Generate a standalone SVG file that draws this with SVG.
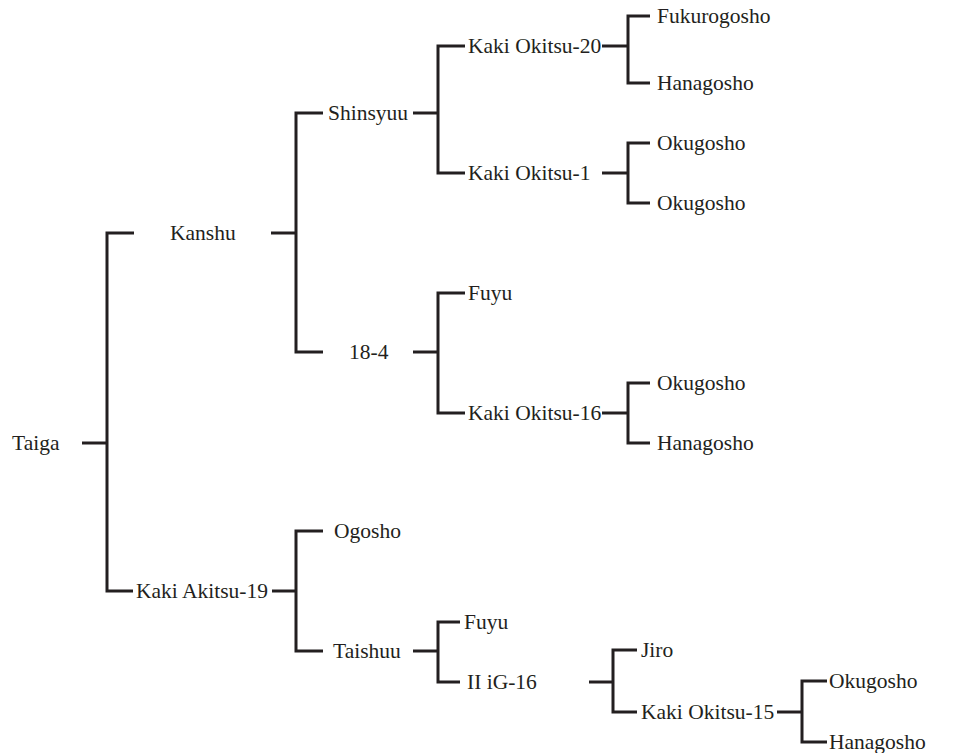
<svg xmlns="http://www.w3.org/2000/svg" width="958" height="753" viewBox="0 0 958 753">
<style>
.c{fill:none;stroke:#231f20;stroke-width:3;stroke-linejoin:miter}
.t{font-family:'Liberation Serif','DejaVu Serif',serif;font-size:21.5px;fill:#231f20}
</style>
<rect width="958" height="753" fill="#ffffff"/>
<g id="connectors">
<path class="c" d="M82 443H107"/>
<polyline class="c" points="134,233 107,233 107,591 133,591"/>
<path class="c" d="M271 233H296"/>
<polyline class="c" points="323,113 296,113 296,352 323,352"/>
<path class="c" d="M413 113H438"/>
<polyline class="c" points="465,46 438,46 438,173 465,173"/>
<path class="c" d="M602 46H628"/>
<polyline class="c" points="650,16 628,16 628,83 650,83"/>
<path class="c" d="M602 173H628"/>
<polyline class="c" points="650,143 628,143 628,203 650,203"/>
<path class="c" d="M413 352H438"/>
<polyline class="c" points="465,293 438,293 438,413 465,413"/>
<path class="c" d="M602 413H628"/>
<polyline class="c" points="650,383 628,383 628,443 650,443"/>
<path class="c" d="M272 591H296"/>
<polyline class="c" points="323,531 296,531 296,651 323,651"/>
<path class="c" d="M413 651H438"/>
<polyline class="c" points="460,622 438,622 438,682 460,682"/>
<path class="c" d="M589 682H613"/>
<polyline class="c" points="637,650 613,650 613,712 637,712"/>
<path class="c" d="M777 712H802"/>
<polyline class="c" points="827,681 802,681 802,742 827,742"/>
</g>
<g class="t" font-family="Liberation Serif, serif">
<g id="n-taiga"><text x="12" y="450">Taiga</text></g>
<g id="n-kanshu"><text x="170" y="240">Kanshu</text></g>
<g id="n-kaki-akitsu-19"><text x="136" y="598">Kaki Akitsu-19</text></g>
<g id="n-shinsyuu"><text x="328" y="120">Shinsyuu</text></g>
<g id="n-18-4"><text x="349" y="359">18-4</text></g>
<g id="n-ogosho"><text x="334" y="538">Ogosho</text></g>
<g id="n-taishuu"><text x="333" y="658">Taishuu</text></g>
<g id="n-kaki-okitsu-20"><text x="468" y="53">Kaki Okitsu-20</text></g>
<g id="n-kaki-okitsu-1"><text x="468" y="180">Kaki Okitsu-1</text></g>
<g id="n-fuyu-1"><text x="468" y="300">Fuyu</text></g>
<g id="n-kaki-okitsu-16"><text x="468" y="420">Kaki Okitsu-16</text></g>
<g id="n-fuyu-2"><text x="464" y="629">Fuyu</text></g>
<g id="n-iig-16"><text x="467" y="689">II iG-16</text></g>
<g id="n-fukurogosho"><text x="657" y="23">Fukurogosho</text></g>
<g id="n-hanagosho-1"><text x="657" y="90">Hanagosho</text></g>
<g id="n-okugosho-1"><text x="657" y="150">Okugosho</text></g>
<g id="n-okugosho-2"><text x="657" y="210">Okugosho</text></g>
<g id="n-okugosho-3"><text x="657" y="390">Okugosho</text></g>
<g id="n-hanagosho-2"><text x="657" y="450">Hanagosho</text></g>
<g id="n-jiro"><text x="641" y="657">Jiro</text></g>
<g id="n-kaki-okitsu-15"><text x="641" y="719">Kaki Okitsu-15</text></g>
<g id="n-okugosho-4"><text x="829" y="688">Okugosho</text></g>
<g id="n-hanagosho-3"><text x="829" y="749">Hanagosho</text></g>
</g>
</svg>
